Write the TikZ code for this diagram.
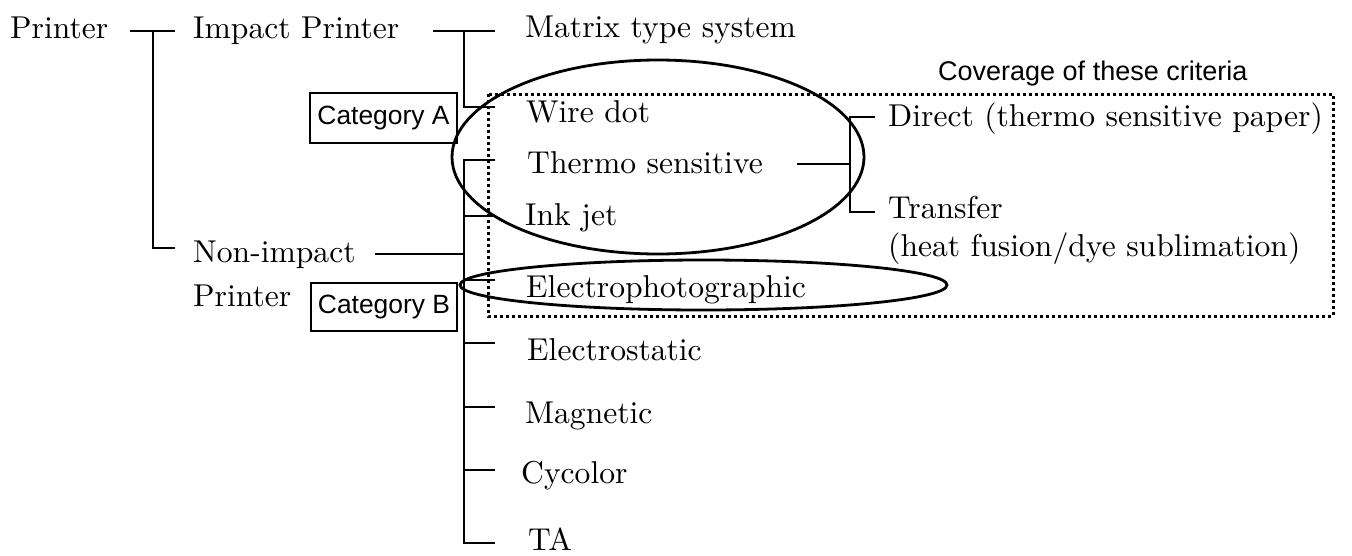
\documentclass[tikz,border=0pt]{standalone}
\usepackage{fontspec}
\usetikzlibrary{shapes.geometric}
\setmainfont{lmroman10-regular.otf}
\newfontfamily\labelsans{Liberation Sans}
\begin{document}
\begin{tikzpicture}[x=1pt,y=-1pt,
  tree/.style={line width=2pt},
  lbl/.style={anchor=base west,inner sep=0pt,font=\fontsize{31.6pt}{38pt}\selectfont},
  sanslbl/.style={anchor=base west,inner sep=0pt,font=\labelsans\fontsize{27pt}{32pt}\selectfont},
  catbox/.style={draw,line width=1.5pt,inner sep=0pt,font=\labelsans\fontsize{26.4pt}{32pt}\selectfont},
  ring/.style={draw,line width=2.8pt},
  coverage/.style={draw,line width=3pt,dash pattern=on 3pt off 3pt}]
\useasboundingbox (0,0) rectangle (1352,555);

% coverage frame and its caption
\draw[coverage] (488,94) rectangle (1333,316);
\node[sanslbl] (cov) at (938,80) {Coverage of these criteria};

% first level
\node[lbl] (root) at (10,38) {Printer};
\node[lbl] (impact) at (193,38) {Impact Printer};
\node[lbl] (nonimp) at (193,262) {Non-impact};
\node[lbl] (nonimp2) at (193,306) {Printer};

% impact printers
\node[lbl] (matrix) at (525,37) {Matrix type system};
\node[lbl] (wire) at (526,122) {Wire dot};

% non-impact printers
\node[lbl] (thermo) at (527,173) {Thermo sensitive};
\node[lbl] (inkjet) at (525,225) {Ink jet};
\node[lbl] (ephoto) at (526,297) {Electrophotographic};
\node[lbl] (estat) at (527,360) {Electrostatic};
\node[lbl] (magn) at (525,423) {Magnetic};
\node[lbl] (cyc) at (521,483) {Cycolor};
\node[lbl] (ta) at (528,550) {TA};

% thermo sensitive subtypes
\node[lbl] (direct) at (888,126) {Direct (thermo sensitive paper)};
\node[lbl] (transfer) at (888,218) {Transfer};
\node[lbl] (transfer2) at (888,256) {(heat fusion/dye sublimation)};

% category boxes
\node[catbox,minimum width=147pt,minimum height=50pt] (catA) at (383.5,118) {Category A};
\node[catbox,minimum width=146pt,minimum height=48pt] (catB) at (384,307) {Category B};

% groupings
\node[ring,ellipse,minimum width=412pt,minimum height=194pt,inner sep=0pt] (grpA) at (658,157) {};
\node[ring,ellipse,minimum width=487pt,minimum height=50pt,inner sep=0pt] (grpB) at (703.5,285) {};

% junction points
\coordinate (r1) at (130,31);  \coordinate (r2) at (175,31);
\coordinate (rj) at (153,31);  \coordinate (rb) at (153,248); \coordinate (rn) at (175,248);
\coordinate (i1) at (433,31);  \coordinate (i2) at (495,31);
\coordinate (ij) at (464,31);  \coordinate (ib) at (464,107); \coordinate (iw) at (495,107);
\coordinate (n1) at (375,254); \coordinate (nj) at (464,254);
\coordinate (nt) at (464,160); \coordinate (nb) at (464,543);
\coordinate (t1) at (797,164); \coordinate (tj) at (850,164);
\coordinate (tt) at (850,117); \coordinate (tb) at (850,212);
\coordinate (td) at (875,117); \coordinate (tr) at (875,212);

% Printer
\draw[tree] (r1) -- (r2);
\draw[tree] (rj) -- (rb) -- (rn);
% Impact Printer
\draw[tree] (i1) -- (i2);
\draw[tree] (ij) -- (ib) -- (iw);
% Non-impact Printer
\draw[tree] (n1) -- (nj);
\draw[tree] (495,160) -- (nt) -- (nb) -- (495,543);
\foreach \yy in {216,280,343,407,470}
  \draw[tree] (464,\yy) -- (495,\yy);
% Thermo sensitive
\draw[tree] (t1) -- (tj);
\draw[tree] (td) -- (tt) -- (tb) -- (tr);
\end{tikzpicture}
\end{document}
